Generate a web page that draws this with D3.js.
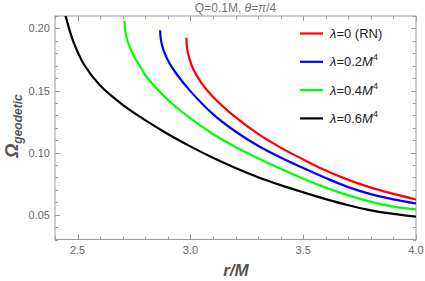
<!DOCTYPE html>
<html>
<head>
<meta charset="utf-8">
<script src="https://cdn.jsdelivr.net/npm/d3@7"></script>
<style>
  body { margin: 0; background: #fff; }
  svg { display: block; font-family: "Liberation Sans", Arial, sans-serif; }
</style>
</head>
<body>
<svg id="chart" width="425" height="281"></svg>
<script>
// values (r/M, Omega)
const rRN   = [2.982, 2.9842, 2.9886, 2.9966, 3.013, 3.0485, 3.1, 3.2, 3.3, 3.4, 3.5, 3.6, 3.7, 3.8, 3.9, 4.0];
const omRN  = [0.1925, 0.1857, 0.1807, 0.1751, 0.1671, 0.1562, 0.145, 0.1285, 0.115, 0.104, 0.0945, 0.0855, 0.078, 0.0718, 0.0667, 0.0622];
const rL02  = [2.866, 2.8682, 2.8726, 2.8837, 2.906, 2.937, 3.0, 3.1, 3.2, 3.3, 3.4, 3.5, 3.6, 3.7, 3.8, 3.9, 4.0];
const omL02 = [0.1985, 0.1924, 0.1879, 0.1811, 0.1724, 0.1637, 0.1495, 0.131, 0.117, 0.1055, 0.096, 0.0875, 0.0795, 0.0722, 0.0665, 0.0623, 0.059];
const rL04  = [2.708, 2.7102, 2.7147, 2.7257, 2.748, 2.779, 2.8, 2.9, 3.0, 3.1, 3.2, 3.3, 3.4, 3.5, 3.6, 3.7, 3.8, 3.9, 4.0];
const omL04 = [0.206, 0.1995, 0.1946, 0.1875, 0.1782, 0.1689, 0.1625, 0.1425, 0.1275, 0.115, 0.1045, 0.0955, 0.087, 0.079, 0.0718, 0.0655, 0.0603, 0.0565, 0.0542];
const rL06  = [2.44, 2.447, 2.48, 2.53, 2.6, 2.7, 2.8, 2.9, 3.0, 3.1, 3.2, 3.3, 3.4, 3.5, 3.6, 3.7, 3.8, 3.9, 4.0];
const omL06 = [0.215, 0.21, 0.19, 0.1705, 0.154, 0.1385, 0.1262, 0.115, 0.105, 0.0958, 0.0876, 0.0802, 0.0738, 0.068, 0.0625, 0.0576, 0.0535, 0.0506, 0.0483];

const xTicks = [2.5, 3.0, 3.5, 4.0];
const yTicks = [0.05, 0.10, 0.15, 0.20];

const series = [
    {lam: "0", tail: " (RN)", r: rRN, om: omRN, color: "#ff0000"},
    {lam: "0.2", tail: "M4", r: rL02, om: omL02, color: "#0000ff"},
    {lam: "0.4", tail: "M4", r: rL04, om: omL04, color: "#00ff00"},
    {lam: "0.6", tail: "M4", r: rL06, om: omL06, color: "#000000"}
];

const svg = d3.select("#chart");
const pL = 55, pR = 416, pT = 16, pB = 239.5;

const x = d3.scaleLinear().domain([2.4, 4.0]).range([pL, pR]);
const y = d3.scaleLinear().domain([0.03, 0.21]).range([pB, pT]);

const frameCol = "#9a9a9a", tickTextCol = "#666";

svg.append("clipPath").attr("id", "clip")
    .append("rect").attr("x", pL).attr("y", pT).attr("width", pR - pL).attr("height", pB - pT);

// frame
svg.append("rect").attr("x", pL).attr("y", pT).attr("width", pR - pL).attr("height", pB - pT)
    .attr("fill", "none").attr("stroke", frameCol).attr("stroke-width", 1);

// ticks pointing inward on all four sides
const xMinor = d3.range(2.4, 4.001, 0.1);
const yMinor = d3.range(0.03, 0.2101, 0.01);
const isMaj = (v, step) => Math.abs(v / step - Math.round(v / step)) < 1e-6;

const tg = svg.append("g").attr("stroke", frameCol).attr("stroke-width", 1);
xMinor.forEach(v => {
    const len = isMaj(v, 0.5) ? 5 : 3;
    const px = Math.round(x(v)) + 0.5;
    tg.append("line").attr("x1", px).attr("x2", px).attr("y1", pB).attr("y2", pB - len);
    tg.append("line").attr("x1", px).attr("x2", px).attr("y1", pT).attr("y2", pT + len);
});
yMinor.forEach(v => {
    const len = isMaj(v, 0.05) ? 5 : 3;
    const py = Math.round(y(v)) + 0.5;
    tg.append("line").attr("x1", pL).attr("x2", pL + len).attr("y1", py).attr("y2", py);
    tg.append("line").attr("x1", pR).attr("x2", pR - len).attr("y1", py).attr("y2", py);
});

// tick labels
svg.append("g").selectAll("text").data(xTicks).join("text")
    .attr("x", d => x(d)).attr("y", pB + 14)
    .attr("text-anchor", "middle").attr("font-size", 11).attr("fill", tickTextCol)
    .text(d => d.toFixed(1));
svg.append("g").selectAll("text").data(yTicks).join("text")
    .attr("x", pL - 5).attr("y", d => y(d) + 4)
    .attr("text-anchor", "end").attr("font-size", 11).attr("fill", tickTextCol)
    .text(d => d.toFixed(2));

// curves
const line = d3.line().x(d => x(d[0])).y(d => y(d[1])).curve(d3.curveCatmullRom.alpha(0.5));
svg.append("g").attr("clip-path", "url(#clip)").selectAll("path").data(series).join("path")
    .attr("d", s => line(s.r.map((r, i) => [r, s.om[i]])))
    .attr("fill", "none").attr("stroke", s => s.color).attr("stroke-width", 2.2);

// title
const title = svg.append("text").attr("x", (pL + pR) / 2).attr("y", 12)
    .attr("text-anchor", "middle").attr("font-size", 12).attr("fill", "#777");
title.append("tspan").text("Q=0.1M, ");
title.append("tspan").attr("font-style", "italic").text("θ");
title.append("tspan").text("=");
title.append("tspan").attr("font-style", "italic").text("π");
title.append("tspan").text("/4");

// legend
const lg = svg.append("g");
series.forEach((s, i) => {
    const yy = 33.5 + i * 28.3;
    lg.append("line").attr("x1", 300).attr("x2", 323).attr("y1", yy).attr("y2", yy)
        .attr("stroke", s.color).attr("stroke-width", 2.2);
    const t = lg.append("text").attr("x", 330).attr("y", yy + 4.5).attr("font-size", 13).attr("fill", "#222");
    t.append("tspan").attr("font-style", "italic").text("λ");
    t.append("tspan").text("=" + s.lam);
    if (s.tail === "M4") {
        t.append("tspan").attr("font-style", "italic").text("M");
        t.append("tspan").attr("font-size", 9).attr("dy", -6).text("4");
    } else {
        t.append("tspan").text(s.tail);
    }
});

// axis labels
svg.append("text").attr("x", 236).attr("y", 276).attr("text-anchor", "middle")
    .attr("font-size", 17).attr("font-weight", "bold").attr("font-style", "italic").attr("fill", "#555")
    .text("r/M");

const yl = svg.append("text").attr("transform", "translate(18,126) rotate(-90)")
    .attr("text-anchor", "middle").attr("font-weight", "bold").attr("font-style", "italic").attr("fill", "#555");
yl.append("tspan").attr("font-size", 18).text("Ω");
yl.append("tspan").attr("font-size", 12).attr("dy", 4).text("geodetic");
</script>
</body>
</html>
